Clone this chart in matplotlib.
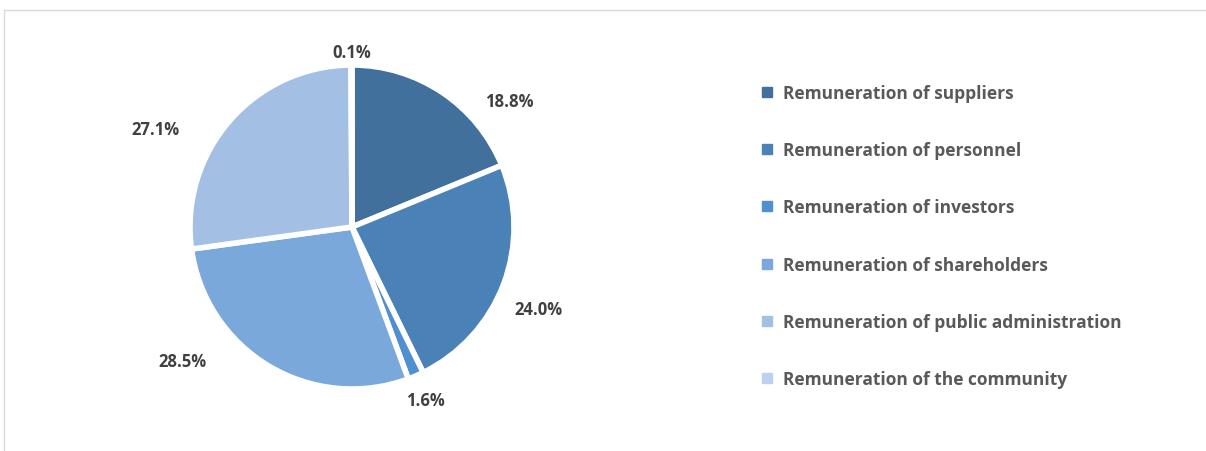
import matplotlib
matplotlib.use("Agg")
import matplotlib.pyplot as plt
from matplotlib.patches import Rectangle
from matplotlib.lines import Line2D

categories = ["Remuneration of suppliers", "Remuneration of personnel",
              "Remuneration of investors", "Remuneration of shareholders",
              "Remuneration of public administration", "Remuneration of the community"]
values = [18.8, 24.0, 1.6, 28.5, 27.1, 0.1]
colors = ["#41709C", "#4A81B6", "#5090D0", "#7AA8DA", "#A3BFE3", "#BDD0EE"]

plt.rcParams['font.family'] = ['Open Sans', 'DejaVu Sans']
W, H = 1206, 452
fig = plt.figure(figsize=(W / 100, H / 100), dpi=100)
fig.patch.set_facecolor("white")

# outer frame
fig.add_artist(Rectangle((4 / W, -0.1), 1.2, (H - 11) / H + 0.1, transform=fig.transFigure,
                         fill=False, edgecolor="#D9D9D9", linewidth=1))

cx, cy, r = 352, 228, 162
# data label positions (pixels) -> pie-radius units
label_px = [(509, 102), (538, 310), (425, 401), (182, 362), (155, 130), (352, 53)]
label_pos = [((x - cx) / r, (cy - y) / r) for x, y in label_px]

ax = fig.add_axes([(cx - r) / W, (H - cy - r) / H, 2 * r / W, 2 * r / H])
wedges, _ = ax.pie(values, colors=colors, startangle=90, counterclock=False,
                   radius=1.0, wedgeprops=dict(edgecolor="white", linewidth=4))
ax.set_xlim(-1, 1)
ax.set_ylim(-1, 1)
ax.set_aspect("equal")
ax.axis("off")

for v, (lx, ly) in zip(values, label_pos):
    ax.text(lx, ly, f"{v:.1f}%", ha="center", va="center", fontsize=12,
            fontweight="bold", color="#404040", clip_on=False)

handles = [Line2D([0], [0], marker="s", linestyle="none", markersize=7,
                  markerfacecolor=c, markeredgecolor=c) for c in colors]
leg = fig.legend(handles, categories, loc="upper left",
                 bbox_to_anchor=(759 / W, (H - 85) / H), frameon=False,
                 prop=dict(family=['Open Sans', 'DejaVu Sans'], weight="bold", size=12.5),
                 labelspacing=2.26, handletextpad=0.5, handlelength=0.9,
                 borderaxespad=0, borderpad=0)
for t in leg.get_texts():
    t.set_color("#595959")

fig.savefig("out.png", dpi=100, facecolor="white")
